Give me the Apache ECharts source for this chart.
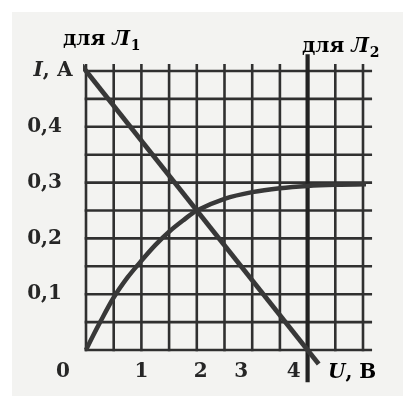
<!DOCTYPE html>
<html>
<head>
<meta charset="utf-8">
<script src="https://cdn.jsdelivr.net/npm/echarts@6/dist/echarts.min.js"></script>
<style>
  html, body { margin: 0; padding: 0; background: #ffffff; }
  #chart { width: 403px; height: 396px; }
</style>
</head>
<body>
<div id="chart"></div>
<script>
// Current-voltage characteristic of the lamp (U in volts, I in amperes)
const curveU = [0, 0.125, 0.25, 0.5, 0.75, 1, 1.25, 1.5, 1.75, 2, 2.5, 3, 3.5, 4, 4.5, 5.08];
const curveI = [0, 0.025, 0.049, 0.094, 0.13, 0.16, 0.188, 0.212, 0.232, 0.25, 0.271, 0.283, 0.29, 0.294, 0.296, 0.297];

// Load line for Л1: I = 0.5 - U/8, drawn a little past both axes
const loadU = [-0.12, 4.2];
const loadI = [0.515, -0.025];

// Load line for Л2: vertical at U = 4 V
const vertU = [4, 4];
const vertI = [0.53, -0.058];

// Graph-paper grid
const gridU = [0, 0.5, 1, 1.5, 2, 2.5, 3, 3.5, 4, 4.5, 5];
const gridI = [0, 0.05, 0.1, 0.15, 0.2, 0.25, 0.3, 0.35, 0.4, 0.45, 0.5];
const gridTopI = 0.51;
const gridRightU = 5.14;

// Axis tick labels
const xTickLabels = { 0: '0', 1: '1', 2: '2', 3: '3', 4: '4' };
const yTickLabels = { 0.1: '0,1', 0.2: '0,2', 0.3: '0,3', 0.4: '0,4' };

const FONT = 'DejaVu Serif';
const INK = '#262626';
const GRID_INK = '#303030';

const chart = echarts.init(document.getElementById('chart'), null, { renderer: 'canvas' });

// Each grid segment: [u1, i1, u2, i2]
const gridSegments = [];
gridU.forEach(u => gridSegments.push([u, 0, u, gridTopI]));
gridI.forEach(i => gridSegments.push([0, i, gridRightU, i]));

const textBase = { fontFamily: FONT, fontSize: 20, color: INK, fontWeight: 'bold' };
const italic = Object.assign({}, textBase, { fontStyle: 'italic' });
const sub = Object.assign({}, textBase, { fontSize: 14, padding: [12, 0, 0, 1] });

chart.setOption({
  animation: false,
  backgroundColor: '#ffffff',
  graphic: [
    {
      type: 'rect', z: -10, silent: true,
      shape: { x: 12, y: 12, width: 403, height: 396 },
      style: { fill: '#f3f3f1' }
    },
    {
      type: 'text', x: 63, y: 40, silent: true,
      style: { text: '{n|для }{i|Л}{s|1}', verticalAlign: 'middle', rich: { n: textBase, i: italic, s: sub } }
    },
    {
      type: 'text', x: 302, y: 47, silent: true,
      style: { text: '{n|для }{i|Л}{s|2}', verticalAlign: 'middle', rich: { n: textBase, i: italic, s: sub } }
    },
    {
      type: 'text', x: 328, y: 373, silent: true,
      style: { text: '{i|U}{n|, В}', verticalAlign: 'middle', rich: { n: textBase, i: italic } }
    }
  ],
  grid: { left: 86, right: 40, top: 71, bottom: 46 },
  xAxis: {
    type: 'value', min: 0, max: 5, interval: 1,
    axisLine: { show: false }, axisTick: { show: false }, splitLine: { show: false },
    axisLabel: {
      margin: 12,
      formatter: v => (v in xTickLabels ? '{x' + v + '|' + xTickLabels[v] + '}' : ''),
      rich: {
        x0: Object.assign({}, textBase, { padding: [0, 46, 0, 0] }),
        x1: textBase,
        x2: Object.assign({}, textBase, { padding: [0, 0, 0, 8] }),
        x3: Object.assign({}, textBase, { padding: [0, 22, 0, 0] }),
        x4: Object.assign({}, textBase, { padding: [0, 28, 0, 0] })
      }
    }
  },
  yAxis: {
    type: 'value', min: 0, max: 0.5, interval: 0.1,
    axisLine: { show: false }, axisTick: { show: false }, splitLine: { show: false },
    axisLabel: {
      margin: 13,
      formatter: v => {
        const k = Math.round(v * 10) / 10;
        if (k === 0.5) return '{i|I}{n|, А}';
        return k in yTickLabels ? '{v|' + yTickLabels[k] + '}' : '';
      },
      rich: {
        v: Object.assign({}, textBase, { padding: [0, 11, 0, 0] }),
        i: italic,
        n: textBase
      }
    }
  },
  series: [
    {
      name: 'grid', type: 'custom', clip: false, silent: true,
      data: gridSegments,
      encode: { x: [0, 2], y: [1, 3] },
      renderItem: (params, api) => {
        const p1 = api.coord([api.value(0), api.value(1)]);
        const p2 = api.coord([api.value(2), api.value(3)]);
        return {
          type: 'line',
          shape: { x1: p1[0], y1: p1[1], x2: p2[0], y2: p2[1] },
          style: { stroke: GRID_INK, lineWidth: 2.6, lineCap: 'square' }
        };
      }
    },
    {
      name: 'Л2', type: 'line', clip: false, silent: true, symbol: 'none',
      data: vertU.map((u, k) => [u, vertI[k]]),
      lineStyle: { color: '#222222', width: 4.2, cap: 'butt' }
    },
    {
      name: 'ВАХ', type: 'line', clip: false, silent: true, symbol: 'none',
      smooth: 0.3,
      data: curveU.map((u, k) => [u, curveI[k]]),
      lineStyle: { color: '#383838', width: 4.5, cap: 'butt' }
    },
    {
      name: 'Л1', type: 'line', clip: false, silent: true, symbol: 'none',
      data: loadU.map((u, k) => [u, loadI[k]]),
      lineStyle: { color: '#383838', width: 4.8, cap: 'butt' }
    }
  ]
});
</script>
</body>
</html>
